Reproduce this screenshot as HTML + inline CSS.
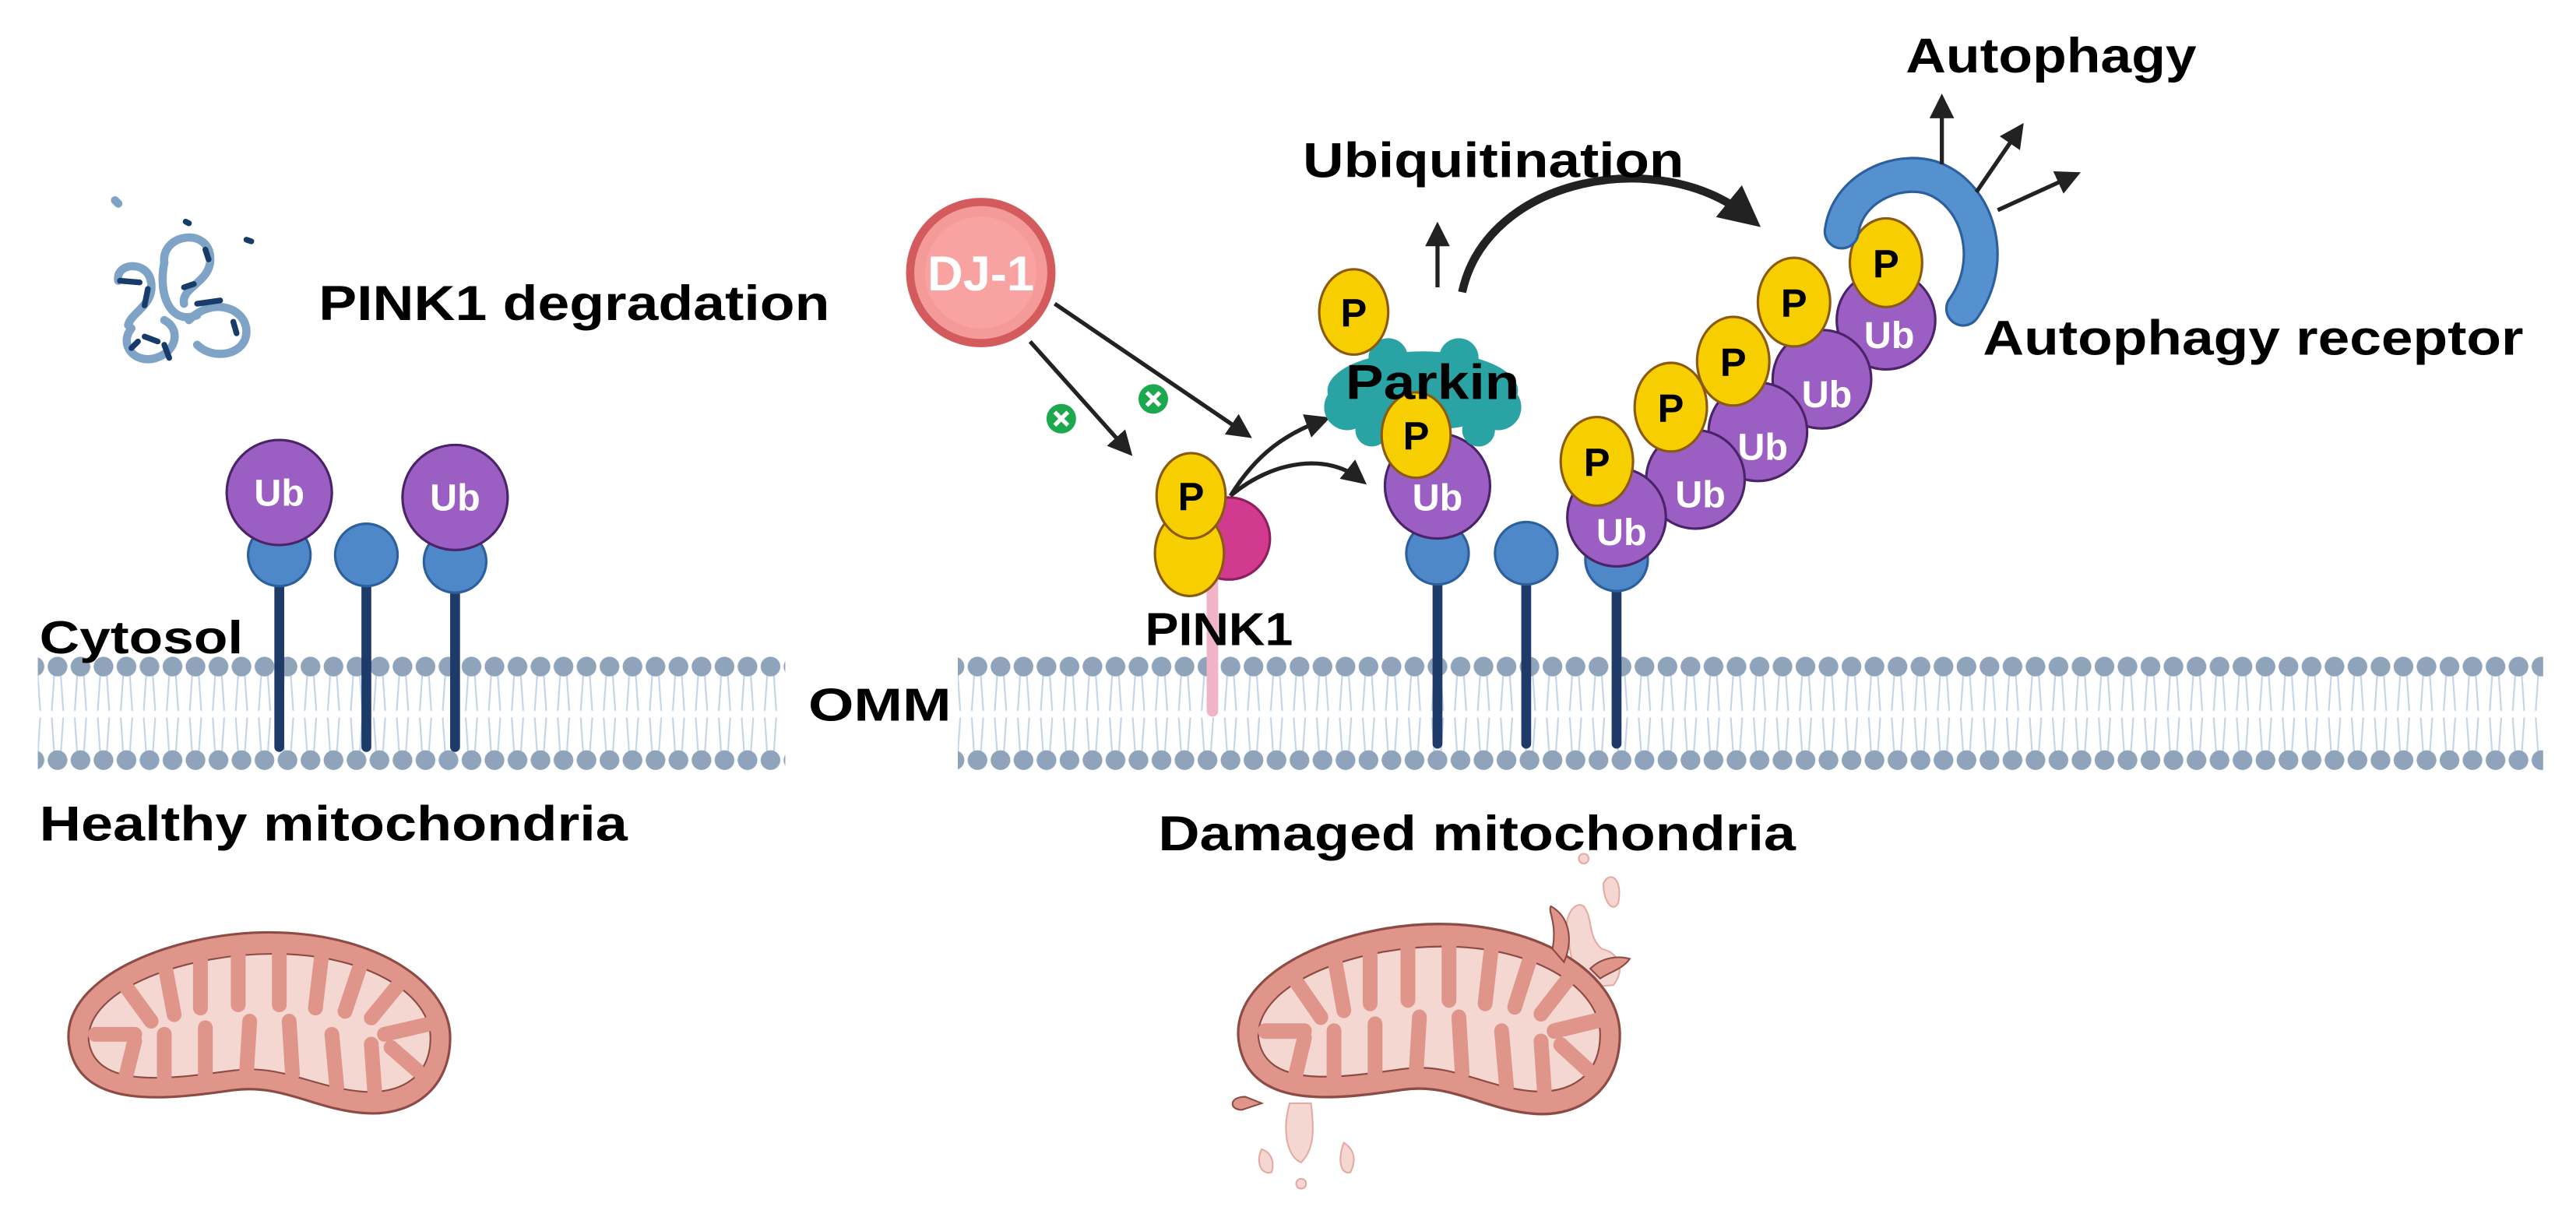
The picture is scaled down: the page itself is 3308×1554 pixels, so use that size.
<!DOCTYPE html>
<html><head><meta charset="utf-8"><style>
html,body{margin:0;padding:0;background:#fff;}
svg{display:block;}
text{font-family:"Liberation Sans",sans-serif;font-weight:bold;}
</style></head><body>
<svg width="3308" height="1554" viewBox="0 0 1568 737" preserveAspectRatio="none" xmlns="http://www.w3.org/2000/svg">
<defs>
<marker id="ah" markerWidth="6" markerHeight="6" refX="4" refY="3" orient="auto" markerUnits="strokeWidth">
<path d="M0,0 L6,3 L0,6 Z" fill="#222"/></marker>
<marker id="ah2" markerWidth="5" markerHeight="5" refX="3" refY="2.5" orient="auto" markerUnits="strokeWidth">
<path d="M0,0 L5,2.5 L0,5 Z" fill="#222"/></marker>
<pattern id="mem" patternUnits="userSpaceOnUse" x="0" y="399" width="14" height="71">
<g stroke="#c2d4e8" stroke-width="1" fill="none">
<path d="M5,12 L3.5,34 M9,12 L10.5,34 M3.5,38 L5,60 M10.5,38 L9,60"/></g>
<ellipse cx="7" cy="7" rx="6" ry="6" fill="#8fa3ba"/>
<ellipse cx="7" cy="64" rx="6" ry="6" fill="#8fa3ba"/>
</pattern>
<g id="mito">
<path d="M42,636 C36,594 110,566 170,568 C232,570 274,600 274,632 C274,664 250,680 222,678 C192,676 172,660 142,664 C100,670 48,676 42,636 Z" fill="#e0958a" stroke="#8d4b45" stroke-width="1.5"/>
<path d="M54,634 C52,602 115,580 170,581 C225,582 262,606 262,632 C262,656 244,666 222,665 C192,663 172,648 142,652 C104,657 58,664 54,634 Z" fill="#f5d7d2" stroke="#8d4b45" stroke-width="1"/>
<g stroke="#e0958a" stroke-width="9" stroke-linecap="round">
<path d="M58,630 L82,630"/><path d="M76,600 L92,622"/><path d="M100,586 L106,618"/><path d="M122,580 L122,614"/>
<path d="M145,578 L145,612"/><path d="M170,578 L170,612"/><path d="M196,580 L192,614"/><path d="M220,586 L210,616"/>
<path d="M244,598 L226,620"/><path d="M260,624 L234,630"/>
<path d="M76,658 L82,634"/><path d="M100,660 L100,630"/><path d="M125,658 L125,626"/><path d="M150,654 L152,622"/>
<path d="M178,654 L176,622"/><path d="M205,662 L202,630"/><path d="M228,664 L226,636"/><path d="M254,652 L238,638"/>
</g></g>
</defs>

<!-- PINK1 degradation tangle -->
<g fill="none" stroke-linecap="round">
<g stroke="#7ea3c6" stroke-width="5">
<path d="M70,122 l2,2"/>
<path d="M72,171 C70,160 90,158 92,172 C94,186 80,190 78,198"/>
<path d="M100,160 C98,142 128,138 128,158 C128,172 110,175 112,185"/>
<path d="M100,160 C96,180 104,198 120,192"/>
<path d="M115,195 C130,180 150,188 150,202 C150,216 130,220 120,210"/>
<path d="M80,200 C72,210 82,222 95,218 C108,214 110,200 100,195"/>
</g>
<g stroke="#173c6a" stroke-width="3.5">
<path d="M73,171 L85,172"/><path d="M90,176 L88,186"/><path d="M125,152 L127,158"/>
<path d="M112,175 L118,173"/><path d="M120,185 L134,183"/><path d="M88,205 L96,208"/>
<path d="M100,210 L103,218"/><path d="M142,196 L144,203"/><path d="M84,208 l-4,4"/>
<path d="M113,135 l2,1"/><path d="M150,146 l3,1"/>
</g></g>
<text x="194" y="195" font-size="30" textLength="311" lengthAdjust="spacingAndGlyphs">PINK1 degradation</text>

<!-- Left membrane -->
<rect x="23" y="399" width="455" height="71" fill="url(#mem)"/>
<g stroke="#1e3a68" stroke-width="6" stroke-linecap="round">
<line x1="170" y1="340" x2="170" y2="455"/>
<line x1="223" y1="340" x2="223" y2="455"/>
<line x1="277" y1="340" x2="277" y2="455"/>
</g>
<g fill="#4f88c8" stroke="#2c5f9e" stroke-width="1.5">
<circle cx="170" cy="338" r="19"/><circle cx="223" cy="338" r="19"/><circle cx="277" cy="342" r="19"/>
</g>
<g fill="#9b5fc3" stroke="#4b2368" stroke-width="1.5">
<circle cx="170" cy="300" r="32"/><circle cx="277" cy="303" r="32"/>
</g>
<g fill="#fff" font-size="23" text-anchor="middle">
<text x="170" y="308">Ub</text><text x="277" y="311">Ub</text>
</g>
<text x="24" y="398" font-size="28" textLength="124" lengthAdjust="spacingAndGlyphs">Cytosol</text>
<text x="24" y="512" font-size="30" textLength="358" lengthAdjust="spacingAndGlyphs">Healthy mitochondria</text>

<!-- Healthy mito -->
<use href="#mito"/>

<!-- Right membrane -->
<rect x="583" y="399" width="965" height="71" fill="url(#mem)"/>
<text x="492" y="439" font-size="28" textLength="87" lengthAdjust="spacingAndGlyphs">OMM</text>

<!-- PINK1 -->
<line x1="738" y1="330" x2="738" y2="433" stroke="#f2b3c6" stroke-width="7" stroke-linecap="round"/>
<circle cx="748" cy="328" r="25" fill="#d23a8f" stroke="#8e1f5e" stroke-width="1.5"/>
<g fill="#f7cf00" stroke="#8a5a10" stroke-width="1.5">
<ellipse cx="724" cy="337" rx="21" ry="26"/>
<ellipse cx="725" cy="302" rx="21" ry="26"/>
</g>
<text x="725" y="311" font-size="24" text-anchor="middle">P</text>
<text x="697" y="393" font-size="28" textLength="90" lengthAdjust="spacingAndGlyphs">PINK1</text>

<!-- DJ-1 -->
<circle cx="597" cy="166" r="43" fill="#f49a98" stroke="#d45b5d" stroke-width="5"/>
<circle cx="597" cy="166" r="34" fill="#f8a3a1"/>
<text x="597" y="177" font-size="30" fill="#fff" text-anchor="middle">DJ-1</text>
<g stroke="#222" stroke-width="2.5" fill="none">
<path d="M642,185 L758,264" marker-end="url(#ah)"/>
<path d="M627,208 L686,274" marker-end="url(#ah)"/>
<path d="M749,302 C765,276 783,264 805,256" marker-end="url(#ah)"/>
<path d="M749,302 C775,280 808,276 828,292" marker-end="url(#ah)"/>
</g>
<g>
<circle cx="646" cy="255" r="9" fill="#1ca84d"/><circle cx="702" cy="243" r="9" fill="#1ca84d"/>
<g stroke="#fff" stroke-width="2.5"><path d="M642,251 l8,8 M650,251 l-8,8"/><path d="M698,239 l8,8 M706,239 l-8,8"/></g>
</g>

<!-- right stalks -->
<g stroke="#1e3a68" stroke-width="6" stroke-linecap="round">
<line x1="875" y1="340" x2="875" y2="453"/>
<line x1="929" y1="340" x2="929" y2="453"/>
<line x1="984" y1="342" x2="984" y2="453"/>
</g>
<g fill="#4f88c8" stroke="#2c5f9e" stroke-width="1.5">
<circle cx="875" cy="337" r="19"/><circle cx="929" cy="337" r="19"/><circle cx="984" cy="341" r="19"/>
</g>
<circle cx="875" cy="296" r="32" fill="#9b5fc3" stroke="#4b2368" stroke-width="1.5"/>
<text x="875" y="311" font-size="23" fill="#fff" text-anchor="middle">Ub</text>

<!-- Parkin -->
<g fill="#2aa3a5">
<ellipse cx="866" cy="238" rx="58" ry="24"/>
<circle cx="820" cy="248" r="14"/><circle cx="912" cy="248" r="14"/>
<circle cx="835" cy="262" r="10"/><circle cx="900" cy="262" r="10"/>
<circle cx="845" cy="218" r="12"/><circle cx="888" cy="218" r="12"/>
</g>
<g fill="#f7cf00" stroke="#8a5a10" stroke-width="1.5">
<ellipse cx="824" cy="190" rx="21" ry="26"/>
<ellipse cx="862" cy="265" rx="21" ry="26"/>
</g>
<g font-size="24" text-anchor="middle">
<text x="824" y="199">P</text><text x="862" y="274">P</text>
</g>
<text x="819" y="243" font-size="30" textLength="106" lengthAdjust="spacingAndGlyphs">Parkin</text>

<!-- Ub chain -->
<g fill="#9b5fc3" stroke="#4b2368" stroke-width="1.5">
<circle cx="1148" cy="195" r="30"/>
<circle cx="1109" cy="231" r="30"/>
<circle cx="1070" cy="263" r="30"/>
<circle cx="1032" cy="292" r="30"/>
<circle cx="984" cy="315" r="30"/>
</g>
<g fill="#fff" font-size="23" text-anchor="middle">
<text x="1150" y="212">Ub</text><text x="1112" y="248">Ub</text><text x="1073" y="280">Ub</text><text x="1035" y="309">Ub</text><text x="987" y="332">Ub</text>
</g>
<g fill="#f7cf00" stroke="#8a5a10" stroke-width="1.5">
<ellipse cx="972" cy="281" rx="22" ry="27"/>
<ellipse cx="1017" cy="248" rx="22" ry="27"/>
<ellipse cx="1055" cy="220" rx="22" ry="27"/>
<ellipse cx="1092" cy="184" rx="22" ry="27"/>
<ellipse cx="1148" cy="160" rx="22" ry="27"/>
</g>
<g font-size="24" text-anchor="middle">
<text x="972" y="290">P</text><text x="1017" y="257">P</text><text x="1055" y="229">P</text><text x="1092" y="193">P</text><text x="1148" y="169">P</text>
</g>

<!-- Autophagy receptor -->
<path d="M1121,141 C1125,112 1160,100 1180,110 C1205,122 1215,160 1195,188" fill="none" stroke="#2c5f9e" stroke-width="22" stroke-linecap="round"/>
<path d="M1121,141 C1125,112 1160,100 1180,110 C1205,122 1215,160 1195,188" fill="none" stroke="#5590cf" stroke-width="19" stroke-linecap="round"/>

<!-- top arrows -->
<g stroke="#222" stroke-width="2.5" fill="none">
<path d="M875,175 L875,140" marker-end="url(#ah)"/>
<path d="M1182,100 L1182,62" marker-end="url(#ah)"/>
<path d="M1203,117 L1229,79" marker-end="url(#ah)"/>
<path d="M1216,128 L1262,107" marker-end="url(#ah)"/>
</g>
<path d="M890,178 C905,108 1010,88 1064,132" fill="none" stroke="#222" stroke-width="5" marker-end="url(#ah2)"/>
<text x="793" y="108" font-size="30" textLength="232" lengthAdjust="spacingAndGlyphs">Ubiquitination</text>
<text x="1160" y="44" font-size="30" textLength="177" lengthAdjust="spacingAndGlyphs">Autophagy</text>
<text x="1207" y="216" font-size="30" textLength="329" lengthAdjust="spacingAndGlyphs">Autophagy receptor</text>
<text x="705" y="518" font-size="30" textLength="388" lengthAdjust="spacingAndGlyphs">Damaged mitochondria</text>

<!-- Damaged mito -->
<g>
<g fill="#f5d7d2" stroke="#e6aaa2" stroke-width="1">
<path d="M955,575 C950,560 958,548 964,552 C970,560 966,570 975,578 C985,580 990,590 982,600 L960,602 Z"/>
<circle cx="964" cy="523" r="3"/>
<path d="M976,538 C980,530 988,535 985,550 C982,556 976,550 976,538 Z"/>
<path d="M785,672 C780,690 784,705 792,708 C800,700 800,688 798,672 Z"/>
<path d="M768,700 C764,708 768,716 774,714 C776,708 774,702 768,700 Z"/>
<circle cx="792" cy="721" r="3"/>
<path d="M818,696 C814,706 816,716 822,714 C826,706 824,700 818,696 Z"/>
</g>
<g transform="translate(712,0) translate(0,-2) scale(1,1.05) translate(0,-30)">
<use href="#mito"/>
</g>
<path d="M945,578 C948,562 942,555 944,552 C955,558 958,572 952,586 Z" fill="#e0958a" stroke="#8d4b45" stroke-width="1"/>
<path d="M968,590 C975,583 985,582 992,584 C988,590 980,592 974,596 Z" fill="#e0958a" stroke="#8d4b45" stroke-width="1"/>
<path d="M758,668 C748,668 748,676 756,676 L768,672 Z" fill="#e0958a" stroke="#8d4b45" stroke-width="1"/>
</g>
</svg>
</body></html>
